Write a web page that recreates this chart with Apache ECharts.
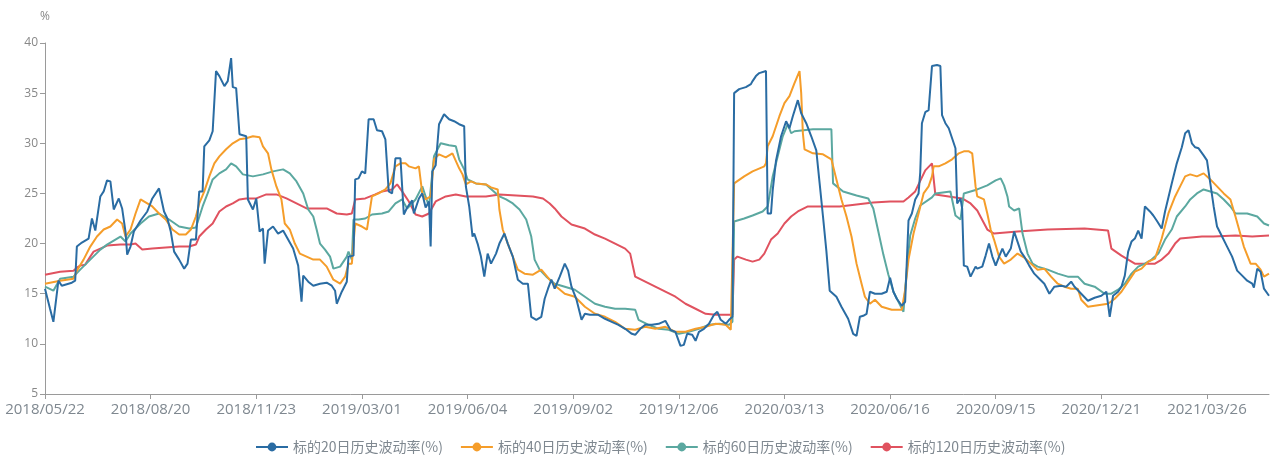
<!DOCTYPE html>
<html>
<head>
<meta charset="utf-8">
<script src="https://cdn.jsdelivr.net/npm/echarts@6/dist/echarts.min.js"></script>
<style>
html,body{margin:0;padding:0;background:#fff;}
#chart{width:1277px;height:459px;}
</style>
</head>
<body>
<div id="chart"></div>
<script>
// Tick labels shown on the x axis
const tickLabels = ['2018/05/22','2018/08/20','2018/11/23','2019/03/01','2019/06/04','2019/09/02','2019/12/06','2020/03/13','2020/06/16','2020/09/15','2020/12/21','2021/03/26'];
// Exchange holidays (weekdays without trading)
const holidays = ['2018/06/18','2018/09/24','2018/10/01','2018/10/02','2018/10/03','2018/10/04','2018/10/05','2018/12/31',
  '2019/01/01','2019/02/04','2019/02/05','2019/02/06','2019/02/07','2019/02/08','2019/04/05','2019/05/01','2019/05/02','2019/05/03',
  '2019/06/07','2019/09/13','2019/10/01','2019/10/02','2019/10/03','2019/10/04','2019/10/07',
  '2020/01/01','2020/01/24','2020/01/27','2020/01/28','2020/01/29','2020/01/30','2020/01/31','2020/04/06','2020/05/01','2020/05/04','2020/05/05',
  '2020/06/25','2020/06/26','2020/10/01','2020/10/02','2020/10/05','2020/10/06','2020/10/07','2020/10/08',
  '2021/01/01','2021/02/11','2021/02/12','2021/02/15','2021/02/16','2021/02/17','2021/04/05','2021/05/03','2021/05/04','2021/05/05'];
const seriesNames = ['标的20日历史波动率(%)','标的40日历史波动率(%)','标的60日历史波动率(%)','标的120日历史波动率(%)'];

// [trading-day index, value]
const vol20 = [[0,15.5],[3,13.5],[5,12.2],[8,16.3],[10,15.8],[16,16.1],[18,16.3],[19,19.7],[22,20.1],[26,20.5],[28,22.5],[30,21.3],[33,24.7],[35,25.2],[37,26.3],[39,26.2],[41,23.4],[44,24.5],[46,23.5],[48,21.2],[49,18.9],[51,19.7],[53,21.2],[57,22.3],[61,23.2],[64,24.5],[68,25.5],[71,23.2],[73,22.5],[75,21.2],[77,19.2],[80,18.4],[83,17.5],[85,18.0],[87,20.4],[90,20.4],[92,25.2],[94,25.2],[95,29.7],[98,30.3],[100,31.2],[102,37.2],[104,36.7],[107,35.7],[109,36.2],[111,38.5],[112,35.6],[114,35.5],[116,30.9],[120,30.7],[121,24.4],[124,23.4],[126,24.5],[128,21.2],[130,21.5],[131,18.0],[133,21.3],[136,21.7],[139,21.0],[142,21.3],[145,20.4],[148,19.5],[151,17.8],[153,14.2],[154,16.8],[157,16.2],[160,15.8],[164,16.0],[168,16.1],[171,15.8],[173,15.3],[174,14.0],[177,15.2],[180,16.2],[181,18.7],[184,18.8],[185,26.4],[187,26.5],[189,27.2],[191,27.0],[193,32.4],[196,32.4],[198,31.3],[201,31.2],[203,30.4],[205,25.2],[207,25.0],[209,28.5],[212,28.5],[214,22.9],[216,23.6],[219,24.3],[220,23.0],[223,24.5],[225,25.0],[227,23.6],[229,24.2],[230,19.7],[231,27.2],[233,27.8],[235,31.9],[238,32.9],[241,32.4],[244,32.2],[247,31.9],[250,31.7],[251,25.7],[253,23.7],[255,20.7],[256,21.0],[258,20.0],[260,18.7],[262,16.7],[264,19.0],[266,18.0],[269,19.0],[271,20.0],[274,21.0],[276,20.0],[279,18.7],[282,16.4],[285,16.0],[288,16.0],[290,12.7],[293,12.4],[296,12.7],[298,14.5],[300,15.5],[302,16.4],[304,15.5],[307,16.7],[310,18.0],[312,17.3],[314,15.7],[317,14.4],[320,12.4],[322,13.0],[325,12.9],[330,12.9],[334,12.5],[338,12.2],[342,11.9],[346,11.5],[350,11.0],[352,10.9],[355,11.5],[358,11.9],[362,11.9],[366,12.0],[370,12.3],[373,11.4],[376,11.2],[379,9.8],[381,9.9],[383,11.0],[386,10.9],[388,10.3],[390,11.2],[393,11.5],[396,12.0],[399,12.9],[401,13.2],[403,12.4],[406,12.0],[408,12.4],[410,12.7],[411,35.0],[414,35.4],[418,35.6],[421,35.9],[422,36.2],[424,36.7],[426,37.0],[430,37.2],[431,23.0],[433,23.0],[434,25.3],[436,28.3],[439,30.7],[442,32.2],[444,31.5],[446,32.7],[449,34.3],[451,33.0],[454,32.0],[457,30.7],[460,29.3],[462,26.0],[464,22.7],[466,19.3],[468,15.3],[472,14.7],[475,13.7],[479,12.5],[482,11.0],[484,10.8],[486,12.7],[488,12.8],[490,13.0],[492,15.2],[495,15.0],[499,15.0],[502,15.2],[504,16.6],[506,15.2],[508,14.5],[511,13.8],[513,14.2],[515,22.3],[517,23.0],[519,24.4],[521,25.0],[522,27.1],[523,32.0],[525,33.1],[527,33.3],[529,37.7],[532,37.8],[534,37.7],[535,32.8],[537,32.0],[539,31.5],[541,30.5],[543,29.5],[544,24.0],[546,24.5],[547,23.5],[548,17.8],[550,17.7],[552,16.7],[555,17.7],[556,17.5],[559,17.7],[561,18.8],[563,20.0],[565,18.7],[567,17.8],[569,18.7],[571,19.5],[573,18.7],[576,19.5],[578,21.2],[580,20.2],[582,19.2],[584,18.7],[587,17.8],[590,17.0],[593,16.5],[596,16.0],[599,15.0],[602,15.7],[606,15.8],[609,15.7],[612,16.2],[614,15.7],[618,15.0],[622,14.3],[626,14.6],[630,14.8],[633,15.2],[635,12.7],[637,14.8],[640,15.2],[642,15.7],[644,16.8],[646,19.2],[648,20.2],[650,20.5],[652,21.3],[654,20.5],[656,23.7],[659,23.2],[661,22.8],[663,22.3],[666,21.5],[668,23.2],[670,24.6],[672,26.0],[675,28.0],[678,29.6],[680,31.0],[682,31.3],[684,30.0],[686,29.6],[688,29.5],[691,28.8],[693,28.3],[695,26.0],[697,23.7],[699,21.7],[702,20.7],[705,19.7],[708,18.7],[711,17.3],[714,16.8],[717,16.3],[720,16.0],[721,15.6],[723,17.5],[725,17.2],[727,15.5],[730,14.8]];

const vol40 = [[0,16.0],[9,16.3],[17,16.5],[19,17.3],[23,18.4],[27,19.7],[31,20.7],[35,21.4],[39,21.7],[43,22.4],[46,22.0],[48,20.7],[51,21.4],[54,23.0],[57,24.4],[61,24.0],[64,23.7],[68,23.0],[72,22.4],[76,21.4],[80,20.9],[84,20.9],[87,21.4],[90,22.7],[92,24.0],[95,25.2],[98,26.7],[101,28.0],[104,28.7],[108,29.4],[112,30.0],[116,30.4],[120,30.5],[124,30.7],[128,30.6],[130,29.7],[133,29.0],[135,27.4],[138,25.7],[141,24.4],[143,22.0],[146,21.4],[149,20.0],[152,19.0],[156,18.7],[160,18.4],[164,18.4],[168,17.7],[172,16.4],[176,16.0],[179,16.7],[181,18.0],[183,18.0],[185,22.0],[189,21.7],[192,21.4],[195,24.7],[199,25.0],[203,25.4],[206,26.0],[209,27.7],[212,28.0],[215,28.0],[217,27.7],[221,27.5],[223,27.7],[225,25.0],[227,24.4],[230,24.7],[232,28.4],[235,28.9],[239,28.6],[243,29.0],[247,27.5],[249,26.9],[251,25.9],[254,26.2],[257,26.0],[263,25.9],[266,25.6],[270,25.4],[271,23.4],[273,21.4],[276,20.0],[279,18.7],[282,17.4],[286,17.0],[291,16.9],[296,17.4],[301,16.4],[305,15.7],[310,15.0],[316,14.7],[322,13.7],[328,13.0],[334,12.7],[340,12.2],[346,11.5],[352,11.4],[358,11.7],[364,11.5],[370,11.7],[376,11.2],[382,11.2],[388,11.5],[394,11.7],[400,12.0],[406,11.9],[409,11.4],[411,26.0],[417,26.7],[422,27.2],[429,27.7],[430,28.0],[431,29.7],[434,30.7],[438,32.7],[441,34.0],[444,34.7],[447,36.0],[450,37.2],[451,35.0],[452,31.0],[453,29.4],[458,29.0],[464,28.9],[469,28.4],[472,26.4],[475,24.4],[478,22.7],[481,20.7],[484,18.0],[487,16.0],[489,14.7],[492,14.0],[495,14.4],[499,13.7],[505,13.4],[511,13.4],[513,15.4],[515,18.4],[518,21.0],[521,23.0],[524,25.0],[527,25.7],[529,26.7],[530,27.7],[533,27.7],[537,28.0],[541,28.4],[545,29.0],[548,29.2],[551,29.2],[553,29.0],[555,25.7],[556,24.7],[560,24.4],[562,23.0],[564,21.4],[566,20.4],[569,18.7],[572,18.0],[576,18.4],[580,19.0],[584,18.6],[588,18.0],[592,17.4],[596,17.5],[600,16.7],[604,16.0],[608,15.7],[612,15.5],[616,15.5],[618,14.4],[622,13.7],[626,13.8],[630,13.9],[634,14.0],[638,14.5],[642,15.2],[646,16.2],[650,17.2],[654,17.5],[658,18.2],[662,18.5],[666,20.5],[670,23.0],[674,24.7],[677,25.7],[680,26.7],[683,26.9],[687,26.7],[691,27.0],[695,26.4],[699,25.7],[703,25.0],[707,24.4],[710,22.7],[715,19.7],[719,18.0],[722,18.0],[725,17.4],[727,16.7],[730,17.0]];

const vol60 = [[0,15.7],[5,15.3],[9,16.5],[17,16.7],[21,17.4],[27,18.4],[33,19.4],[37,19.9],[41,20.3],[45,20.7],[48,20.2],[51,21.0],[57,22.0],[62,22.7],[68,23.0],[74,22.4],[80,21.7],[86,21.5],[90,21.6],[94,23.7],[97,25.0],[100,26.4],[104,27.0],[108,27.4],[111,28.0],[114,27.7],[118,26.9],[124,26.7],[130,26.9],[136,27.2],[142,27.4],[146,27.0],[150,26.2],[154,25.0],[157,23.4],[160,22.7],[162,21.4],[164,20.0],[167,19.4],[170,18.7],[172,17.5],[176,17.7],[180,18.7],[181,19.2],[183,18.4],[184,22.4],[187,22.4],[191,22.5],[195,22.9],[201,23.0],[205,23.2],[209,24.0],[213,24.4],[216,23.5],[221,24.4],[225,25.7],[229,23.7],[232,28.7],[236,30.0],[241,29.8],[245,29.7],[247,28.4],[250,27.4],[252,26.4],[257,26.0],[263,25.9],[271,24.7],[275,24.4],[279,24.0],[283,23.4],[287,22.4],[290,20.7],[292,18.4],[295,17.4],[299,16.7],[304,16.0],[310,15.7],[316,15.4],[322,14.7],[328,14.0],[334,13.7],[340,13.5],[346,13.5],[352,13.4],[354,12.4],[360,11.9],[366,11.5],[372,11.4],[378,11.0],[384,11.2],[390,11.5],[396,11.9],[402,12.0],[408,11.9],[410,12.2],[411,22.2],[417,22.5],[422,22.8],[428,23.2],[431,23.7],[434,26.7],[437,28.7],[440,30.7],[443,31.9],[445,31.0],[447,31.2],[458,31.4],[469,31.4],[470,26.0],[476,25.2],[484,24.8],[491,24.5],[494,23.5],[497,21.2],[500,18.9],[503,16.9],[506,15.2],[509,14.2],[512,13.2],[514,17.5],[516,20.8],[519,22.5],[522,23.8],[529,24.6],[531,25.0],[540,25.2],[543,22.8],[546,22.4],[548,25.0],[556,25.4],[562,25.8],[567,26.3],[570,26.5],[572,25.8],[574,24.7],[575,23.7],[578,23.3],[581,23.5],[583,21.0],[586,19.0],[589,18.0],[592,17.7],[598,17.4],[604,17.0],[610,16.7],[616,16.7],[620,16.0],[626,15.7],[632,15.0],[636,15.0],[640,15.4],[644,16.0],[648,17.0],[652,17.7],[656,18.0],[660,18.4],[664,19.0],[668,20.4],[672,21.4],[675,22.7],[680,23.7],[683,24.4],[687,25.0],[691,25.4],[695,25.2],[699,25.0],[703,24.4],[707,23.7],[710,23.0],[717,23.0],[723,22.7],[727,22.0],[730,21.8]];

const vol120 = [[0,16.9],[3,17.0],[9,17.2],[17,17.3],[19,17.6],[21,17.8],[24,17.9],[27,18.7],[29,19.2],[33,19.5],[37,19.8],[45,19.9],[51,19.9],[54,20.0],[56,19.7],[58,19.4],[64,19.5],[72,19.6],[80,19.7],[86,19.7],[90,19.9],[92,20.7],[96,21.4],[100,22.0],[104,23.2],[108,23.7],[112,24.0],[116,24.4],[120,24.5],[126,24.5],[132,24.9],[138,24.9],[144,24.5],[150,24.0],[156,23.5],[162,23.5],[168,23.5],[174,23.0],[180,22.9],[183,23.0],[185,24.4],[191,24.5],[197,24.9],[201,25.2],[207,25.4],[210,25.9],[213,25.2],[217,24.2],[221,22.9],[225,22.7],[229,23.0],[233,24.2],[239,24.7],[245,24.9],[251,24.7],[263,24.7],[271,24.9],[281,24.8],[291,24.7],[297,24.5],[301,24.0],[304,23.5],[308,22.7],[314,21.9],[322,21.5],[328,20.9],[334,20.5],[340,20.0],[346,19.5],[349,19.0],[352,16.7],[358,16.2],[364,15.7],[370,15.2],[376,14.7],[382,14.0],[388,13.5],[394,13.0],[400,12.9],[410,12.9],[411,18.4],[413,18.7],[418,18.4],[422,18.2],[426,18.4],[429,19.0],[433,20.4],[437,21.0],[441,22.0],[445,22.7],[449,23.2],[455,23.7],[464,23.7],[474,23.7],[484,23.9],[494,24.1],[504,24.2],[512,24.2],[515,24.6],[519,25.2],[525,27.3],[529,28.0],[530,28.0],[531,24.9],[547,24.5],[552,24.0],[556,23.3],[562,21.4],[566,21.0],[580,21.2],[598,21.4],[620,21.5],[634,21.3],[636,19.5],[642,18.8],[650,18.0],[656,18.0],[662,18.0],[666,18.4],[670,19.0],[674,20.0],[677,20.5],[690,20.7],[697,20.7],[710,20.8],[720,20.7],[730,20.8]];

function pad(n){return n<10?'0'+n:''+n;}
const categories = (function(){
  const out = [];
  const d = new Date(Date.UTC(2018,4,22));
  const end = new Date(Date.UTC(2021,4,24));
  while (d <= end) {
    const w = d.getUTCDay();
    const s = d.getUTCFullYear() + '/' + pad(d.getUTCMonth()+1) + '/' + pad(d.getUTCDate());
    if (w !== 0 && w !== 6 && holidays.indexOf(s) < 0) out.push(s);
    d.setUTCDate(d.getUTCDate()+1);
  }
  return out;
})();

const colors = ['#2a6ca3','#f59d2a','#5ba8a0','#e0525f'];
const showTick = function(i, v){ return tickLabels.indexOf(v) >= 0; };

const chart = echarts.init(document.getElementById('chart'));
chart.setOption({
  animation: false,
  color: colors,
  textStyle: {fontFamily: '"Open Sans", "Noto Sans CJK SC", sans-serif'},
  grid: {left: 45, right: 8, top: 43, bottom: 65, containLabel: false},
  legend: {
    bottom: 0,
    left: 250,
    itemWidth: 32,
    itemHeight: 11,
    itemGap: 17,
    textStyle: {color: '#7f8890', fontSize: 14, fontFamily: '"Noto Sans CJK SC", sans-serif'},
    data: seriesNames
  },
  xAxis: {
    type: 'category',
    boundaryGap: false,
    data: categories,
    axisLine: {lineStyle: {color: '#9a9a9a'}},
    axisTick: {interval: showTick, lineStyle: {color: '#9a9a9a'}},
    axisLabel: {interval: showTick, color: '#7f8890', fontSize: 15, margin: 8},
    splitLine: {show: false}
  },
  yAxis: {
    type: 'value',
    min: 5, max: 40, interval: 5,
    name: '%',
    nameGap: 20,
    nameTextStyle: {color: '#888', fontSize: 12, align: 'center'},
    axisLine: {show: true, lineStyle: {color: '#9a9a9a'}},
    axisTick: {show: true, lineStyle: {color: '#9a9a9a'}},
    axisLabel: {color: '#888', fontSize: 12, margin: 7},
    splitLine: {show: false}
  },
  series: [vol20, vol40, vol60, vol120].map(function(d, k){
    return {
      name: seriesNames[k],
      type: 'line',
      data: d,
      symbol: 'circle',
      symbolSize: 10,
      showSymbol: false,
      lineStyle: {width: 2},
      z: 10 - k
    };
  })
});
</script>
</body>
</html>
